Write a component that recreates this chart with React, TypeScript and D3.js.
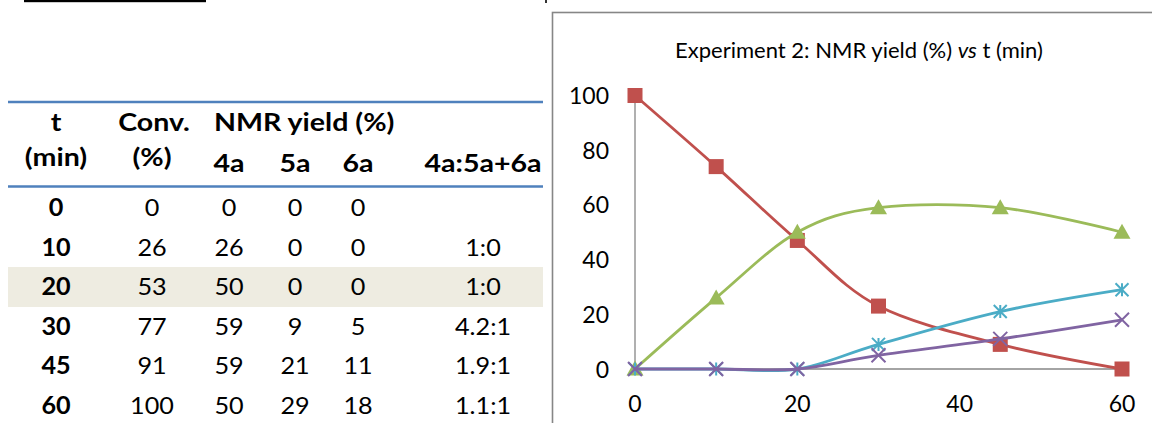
import React from "react";
import * as d3 from "d3";

// Reaction profile, experiment 2
const times = [0, 10, 20, 30, 45, 60];
const conversion = [0, 26, 53, 77, 91, 100];
const yield4a = [0, 26, 50, 59, 59, 50];
const yield5a = [0, 0, 0, 9, 21, 29];
const yield6a = [0, 0, 0, 5, 11, 18];
const ratioLabels = ["", "1:0", "1:0", "4.2:1", "1.9:1", "1.1:1"];
// starting material remaining (%)
const remaining = [100, 74, 47, 23, 9, 0];

const xTicks = [0, 20, 40, 60];
const yTicks = [0, 20, 40, 60, 80, 100];

const FONT = "Lato, 'Open Sans', sans-serif";
const RED = "#C0504D";
const GREEN = "#9BBB59";
const CYAN = "#4BACC6";
const PURPLE = "#8064A2";
const AXIS = "#868686";
const BLUE = "#4F81BD";

const W = 1152;
const H = 423;

// table layout
const colX = { t: 56, conv: 152, a4: 229, a5: 295, a6: 358, ratio: 483 };
const rowY = d3.scaleLinear().domain([0, 5]).range([216, 414]);

// text widened horizontally around its anchor
function T({
  x,
  y,
  sx = 1,
  anchor = "middle",
  bold = false,
  size = 24,
  children,
}: {
  x: number;
  y: number;
  sx?: number;
  anchor?: string;
  bold?: boolean;
  size?: number;
  children: React.ReactNode;
}) {
  return (
    <text
      transform={`translate(${x},${y}) scale(${sx},1)`}
      textAnchor={anchor}
      style={{ fontFamily: FONT, fontSize: size, fontWeight: bold ? 700 : 400, fill: "#000" }}
    >
      {children}
    </text>
  );
}

function Marker({ kind, x, y, color }: { kind: string; x: number; y: number; color: string }) {
  if (kind === "square") {
    return <rect x={x - 7.5} y={y - 7.5} width={15} height={15} fill={color} />;
  }
  if (kind === "triangle") {
    return <path d={`M${x},${y - 8.5} L${x + 8.5},${y + 6.5} L${x - 8.5},${y + 6.5} Z`} fill={color} />;
  }
  if (kind === "star") {
    const r = 6.5;
    return (
      <path
        d={`M${x},${y - r} L${x},${y + r} M${x - r},${y - r} L${x + r},${y + r} M${x - r},${y + r} L${x + r},${y - r}`}
        stroke={color}
        strokeWidth={2}
        fill="none"
      />
    );
  }
  const r = 7;
  return (
    <path
      d={`M${x - r},${y - r} L${x + r},${y + r} M${x - r},${y + r} L${x + r},${y - r}`}
      stroke={color}
      strokeWidth={2}
      fill="none"
    />
  );
}

export default function App() {
  const x = d3.scaleLinear().domain([0, 60]).range([635, 1122]);
  const y = d3.scaleLinear().domain([0, 100]).range([369, 95.5]);

  const series = [
    { values: remaining, color: RED, marker: "square" },
    { values: yield4a, color: GREEN, marker: "triangle" },
    { values: yield5a, color: CYAN, marker: "star" },
    { values: yield6a, color: PURPLE, marker: "x" },
  ];

  const line = d3
    .line<[number, number]>()
    .x((d) => x(d[0]))
    .y((d) => y(d[1]))
    .curve(d3.curveCardinal.tension(0));

  const HS = 1.19; // header widening
  const NS = 1.05; // number widening

  return (
    <svg
      width={W}
      height={H}
      style={{ position: "absolute", left: 0, top: 0, background: "#fff" }}
    >
      <rect x={0} y={0} width={W} height={H} fill="#fff" />
      {/* rule above the table caption */}
      <rect x={24} y={0} width={182} height={2.2} fill="#000" />
      <rect x={545} y={0} width={2} height={3} fill="#333" />

      {/* table */}
      <rect x={8} y={267} width={535} height={40} fill="#EEECE1" />
      <line x1={8} x2={543} y1={102} y2={102} stroke={BLUE} strokeWidth={2.5} />
      <line x1={8} x2={543} y1={186.5} y2={186.5} stroke={BLUE} strokeWidth={2.5} />

      <T x={colX.t} y={131} sx={HS} bold>t</T>
      <T x={colX.t} y={166} sx={HS} bold>(min)</T>
      <T x={colX.conv + 2} y={131} sx={HS} bold>Conv.</T>
      <T x={colX.conv} y={166} sx={HS} bold>(%)</T>
      <T x={214} y={131} sx={HS} anchor="start" bold>NMR yield (%)</T>
      <T x={colX.a4} y={172} sx={HS} bold>4a</T>
      <T x={colX.a5} y={172} sx={HS} bold>5a</T>
      <T x={colX.a6} y={172} sx={HS} bold>6a</T>
      <T x={colX.ratio} y={172} sx={HS} bold>4a:5a+6a</T>

      {times.map((t, i) => (
        <g key={t}>
          <T x={colX.t} y={rowY(i)} sx={NS} bold>{t}</T>
          <T x={colX.conv} y={rowY(i)} sx={NS}>{conversion[i]}</T>
          <T x={colX.a4} y={rowY(i)} sx={NS}>{yield4a[i]}</T>
          <T x={colX.a5} y={rowY(i)} sx={NS}>{yield5a[i]}</T>
          <T x={colX.a6} y={rowY(i)} sx={NS}>{yield6a[i]}</T>
          <T x={colX.ratio} y={rowY(i)} sx={NS}>{ratioLabels[i]}</T>
        </g>
      ))}

      {/* chart frame */}
      <rect x={552.5} y={12.5} width={720} height={500} fill="#fff" stroke={AXIS} strokeWidth={1.6} />

      <text x={859} y={58} textAnchor="middle" style={{ fontFamily: FONT, fontSize: 22, fill: "#000" }}>
        Experiment 2: NMR yield (%) <tspan fontStyle="italic">vs</tspan> t (min)
      </text>

      {/* axes */}
      <line x1={x(0)} x2={x(0)} y1={y(100)} y2={y(0)} stroke={AXIS} strokeWidth={1.3} />
      <line x1={x(0)} x2={x(60)} y1={y(0)} y2={y(0)} stroke={AXIS} strokeWidth={1.3} />
      {yTicks.map((v) => (
        <T key={v} x={609} y={y(v) + 8.5} anchor="end" size={23}>
          {v}
        </T>
      ))}
      {xTicks.map((v) => (
        <T key={v} x={x(v)} y={412} size={23}>
          {v}
        </T>
      ))}

      {/* series */}
      {series.map((s, si) => (
        <g key={si}>
          <path
            d={line(times.map((t, i) => [t, s.values[i]] as [number, number])) || ""}
            fill="none"
            stroke={s.color}
            strokeWidth={2.8}
          />
          {times.map((t, i) => (
            <Marker key={i} kind={s.marker} x={x(t)} y={y(s.values[i])} color={s.color} />
          ))}
        </g>
      ))}
    </svg>
  );
}
